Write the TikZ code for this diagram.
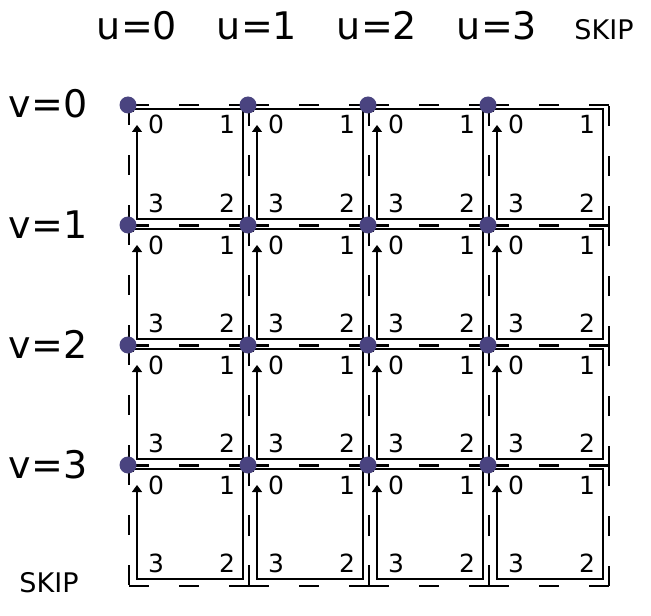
\documentclass[tikz,border=0pt]{standalone}
\usepackage{fontspec}
\setmainfont{DejaVu Sans}
\usetikzlibrary{arrows.meta}
\definecolor{dotc}{RGB}{74,68,128}
\begin{document}
\begin{tikzpicture}[x=1bp,y=-1bp,
  solidpath/.style={line width=1.3bp, black},
  dashpath/.style={line width=1.3bp, black, dash pattern=on 20bp off 30bp},
  gridpt/.style={circle, fill=dotc, minimum size=17bp, inner sep=0pt},
  cornerlbl/.style={font=\fontsize{25bp}{25bp}\selectfont, inner sep=0pt, anchor=base},
  axislbl/.style={font=\fontsize{38bp}{38bp}\selectfont, inner sep=0pt, anchor=base},
  skiplbl/.style={font=\fontsize{27bp}{27bp}\selectfont, inner sep=0pt, anchor=base}]
\useasboundingbox (0,0) rectangle (651,616);
\foreach \i in {0,...,3} {
  \foreach \j in {0,...,3} {
    \pgfmathsetmacro{\X}{128+120*\i}
    \pgfmathsetmacro{\Y}{105+120*\j}
    % outer dashed boundary, side by side
    \draw[dashpath] (\X+1,\Y) -- (\X+1,\Y+121);
    \draw[dashpath] (\X+1,\Y+121) -- (\X+121,\Y+121);
    \draw[dashpath] (\X+121,\Y+121) -- (\X+121,\Y);
    \draw[dashpath] (\X+121,\Y) -- (\X+1,\Y);
    % inner solid loop with arrow
    \draw[solidpath, -{Triangle[length=7bp,width=10bp]}]
      (\X+5,\Y+7) -- (\X+5,\Y+4) -- (\X+115,\Y+4) -- (\X+115,\Y+114)
      -- (\X+9,\Y+114) -- (\X+9,\Y+20);
    % corner numbers
    \node[cornerlbl] (c0-\i-\j) at (\X+28,\Y+29) {0};
    \node[cornerlbl] (c1-\i-\j) at (\X+99,\Y+29) {1};
    \node[cornerlbl] (c2-\i-\j) at (\X+99,\Y+107) {2};
    \node[cornerlbl] (c3-\i-\j) at (\X+28,\Y+107) {3};
  }
}
\foreach \i in {0,...,3} {
  \foreach \j in {0,...,3} {
    \node[gridpt] (p-\i-\j) at (128+120*\i,105+120*\j) {};
  }
}
\foreach \k in {0,...,3} {
  \node[axislbl] (u\k) at (137+120*\k,40) {u=\k};
  \node[axislbl] (v\k) at (48,118+120*\k) {v=\k};
}
\node[skiplbl] (skiptop) at (604,40) {SKIP};
\node[skiplbl] (skipbot) at (49,592) {SKIP};
\end{tikzpicture}
\end{document}
